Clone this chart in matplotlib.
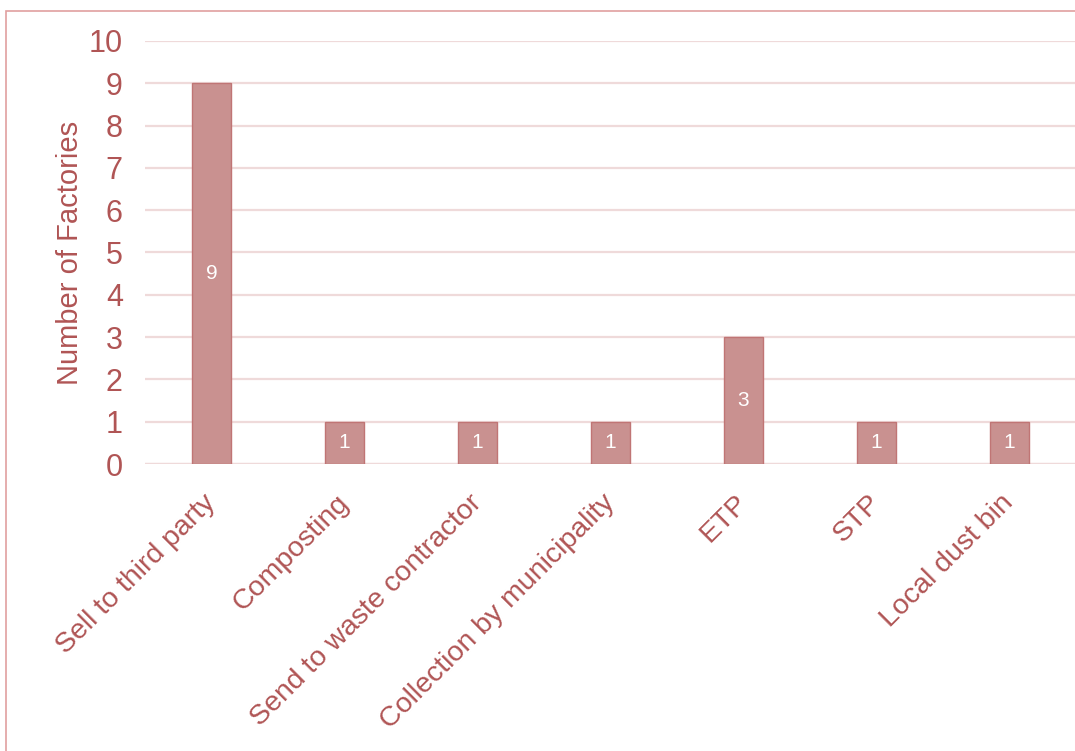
import matplotlib.pyplot as plt
import matplotlib.transforms as mtransforms
from matplotlib.patches import Rectangle

categories = ['Sell to third party', 'Composting', 'Send to waste contractor',
              'Collection by municipality', 'ETP', 'STP', 'Local dust bin']
factories = [9, 1, 1, 1, 3, 1, 1]

text_color = '#b05555'
bar_color = '#c99190'
bar_edge = '#c07575'
grid_color = '#efdada'

plt.rcParams['font.family'] = ['Liberation Sans', 'DejaVu Sans']

fig = plt.figure(figsize=(10.75, 7.51), dpi=100)
ax = fig.add_axes([145 / 1075, 287 / 751, 931 / 1075, 423 / 751])

x = list(range(len(categories)))
bars = ax.bar(x, factories, width=0.3, color=bar_color, edgecolor=bar_edge,
              linewidth=1, zorder=3)
for b, v in zip(bars, factories):
    ax.text(b.get_x() + b.get_width() / 2, v / 2, str(v), ha='center', va='center',
            color='white', fontsize=15, zorder=4)

ax.set_xlim(-0.5, len(categories) - 0.5)
ax.set_ylim(0, 10)
ax.set_yticks(range(0, 11))
ax.yaxis.grid(True, color=grid_color, linewidth=1.6, zorder=0)
ax.set_axisbelow(True)
for s in ax.spines.values():
    s.set_visible(False)
ax.axhline(0, color=grid_color, linewidth=1.6, zorder=1)

ax.set_xticks(x)
ax.set_xticklabels(categories, rotation=45, ha='right', va='center',
                   rotation_mode='anchor', fontsize=20.5, color=text_color)
offset = mtransforms.ScaledTranslation(0.12, 0, fig.dpi_scale_trans)
for lbl in ax.get_xticklabels():
    lbl.set_transform(lbl.get_transform() + offset)
ax.tick_params(axis='x', length=0, pad=25)
ax.tick_params(axis='y', length=0, pad=16, labelsize=22, labelcolor=text_color)
ax.set_ylabel('Number of Factories', fontsize=21, color=text_color, labelpad=3)

# outer border of the original chart frame (cropped on the right and bottom)
fig.patches.append(Rectangle((6 / 1075, -0.1), 1.2, (751 - 11) / 751 + 0.1,
                             transform=fig.transFigure, fill=False,
                             edgecolor='#e0a0a0', linewidth=1.2))

fig.savefig('out.png', dpi=100)
